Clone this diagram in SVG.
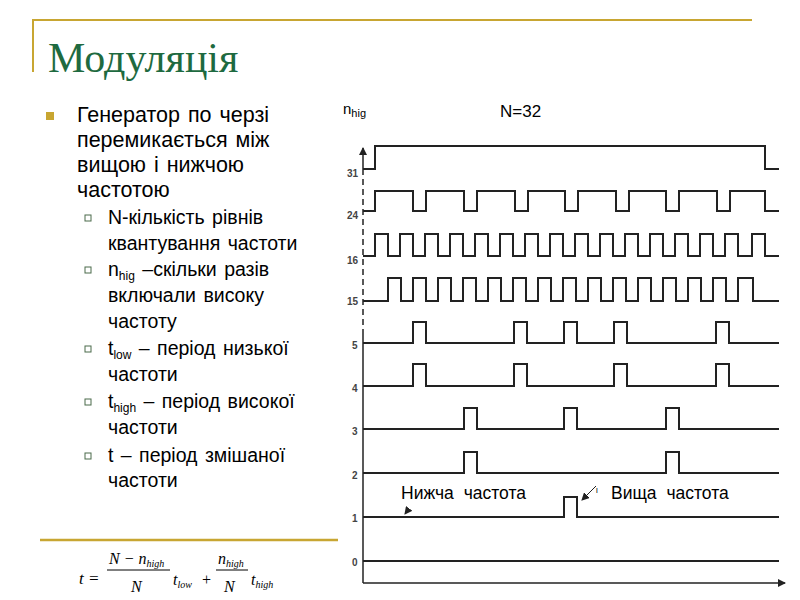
<svg xmlns="http://www.w3.org/2000/svg" width="800" height="600" viewBox="0 0 800 600">
<style>
.t{font-family:"Liberation Sans",Arial,sans-serif;fill:#000}
.b{font-size:21.5px;word-spacing:2px}.s{font-size:19.5px;word-spacing:2px}
.ttl{font-family:"Liberation Serif","Times New Roman",serif;font-size:42px;fill:#1e6a40}
.w{fill:none;stroke:#222;stroke-width:2}
.lab{font-family:"Liberation Sans",Arial,sans-serif;font-size:10px;font-weight:bold;fill:#444}
.f{font-family:"Liberation Serif","Times New Roman",serif;font-style:italic;fill:#000}
</style>
<defs>
<marker id="ah" markerWidth="8" markerHeight="8" refX="7" refY="4" orient="auto" markerUnits="userSpaceOnUse"><path d="M0,0 L8,4 L0,8 z" fill="#222"/></marker>
</defs>
<rect width="800" height="600" fill="#fff"/>
<g id="frame">
<path d="M33,72 V20 H752" fill="none" stroke="#c8a632" stroke-width="2"/>
<line x1="40" y1="540" x2="338" y2="540" stroke="#c8a632" stroke-width="2.5"/>
</g>
<text class="ttl" x="48" y="72">Модуляція</text>
<g id="bullets">
<rect x="46" y="112" width="8" height="8" fill="#c8a632"/>
<text class="t b" x="77" y="122">Генератор по черзі</text>
<text class="t b" x="77" y="147">перемикається між</text>
<text class="t b" x="77" y="172">вищою і нижчою</text>
<text class="t b" x="77" y="197">частотою</text>
<g fill="none" stroke="#4a6a4a" stroke-width="1">
<rect x="85" y="215" width="6" height="6"/><rect x="85" y="267" width="6" height="6"/>
<rect x="85" y="346" width="6" height="6"/><rect x="85" y="399" width="6" height="6"/>
<rect x="85" y="453" width="6" height="6"/></g>
<text class="t s" x="108" y="224">N-кількість рівнів</text>
<text class="t s" x="108" y="250">квантування частоти</text>
<text class="t s" x="108" y="276">n<tspan font-size="12" dy="4">hig</tspan><tspan dy="-4"> –скільки разів</tspan></text>
<text class="t s" x="108" y="302">включали високу</text>
<text class="t s" x="108" y="328">частоту</text>
<text class="t s" x="108" y="355">t<tspan font-size="12" dy="4">low</tspan><tspan dy="-4"> – період низької</tspan></text>
<text class="t s" x="108" y="381">частоти</text>
<text class="t s" x="108" y="408">t<tspan font-size="12" dy="4">high</tspan><tspan dy="-4"> – період високої</tspan></text>
<text class="t s" x="108" y="434">частоти</text>
<text class="t s" x="108" y="462">t – період змішаної</text>
<text class="t s" x="108" y="487">частоти</text>
</g>
<g id="formula">
<text class="f" x="79" y="584" font-size="17">t =</text>
<text class="f" x="109" y="564" font-size="16">N − n<tspan font-size="10" dy="3">high</tspan></text>
<line x1="107" y1="570" x2="170" y2="570" stroke="#000" stroke-width="1"/>
<text class="f" x="131" y="592" font-size="16">N</text>
<text class="f" x="173" y="585" font-size="16">t<tspan font-size="10" dy="3">low</tspan></text>
<text class="f" x="201" y="585" font-size="16">+</text>
<text class="f" x="218" y="564" font-size="16">n<tspan font-size="10" dy="3">high</tspan></text>
<line x1="216" y1="570" x2="248" y2="570" stroke="#000" stroke-width="1"/>
<text class="f" x="224" y="592" font-size="16">N</text>
<text class="f" x="251" y="585" font-size="16">t<tspan font-size="10" dy="3">high</tspan></text>
</g>
<g id="axes" stroke="#222" stroke-width="1.5" fill="none">
<line x1="363" y1="583" x2="363" y2="335"/>
<line x1="363" y1="335" x2="363" y2="170" stroke-dasharray="6,4"/>
<line x1="363" y1="170" x2="363" y2="148" marker-end="url(#ah)"/>
<line x1="363" y1="583" x2="785" y2="583" marker-end="url(#ah)"/>
</g>
<g id="labels">
<text class="t" x="343" y="114" font-size="15">n<tspan font-size="11" dy="3">hig</tspan></text>
<text class="t" x="500" y="117" font-size="17">N=32</text>
<text class="lab" x="347" y="177">31</text><text class="lab" x="347" y="219">24</text>
<text class="lab" x="347" y="264">16</text><text class="lab" x="347" y="305">15</text>
<text class="lab" x="352" y="349">5</text><text class="lab" x="352" y="392">4</text>
<text class="lab" x="352" y="435">3</text><text class="lab" x="352" y="479">2</text>
<text class="lab" x="352" y="522">1</text><text class="lab" x="352" y="566">0</text>
<text class="t" x="401" y="499" font-size="17.5" word-spacing="5">Нижча частота</text>
<text class="t" x="611" y="499" font-size="17.5" word-spacing="5">Вища частота</text>
<text class="t" x="596" y="493" font-size="8" fill="#555">l</text>
</g>
<g id="waves" class="w">
<path d="M363,169 H375 V146 H765 V169 H779"/>
<path d="M363,211 H375 V191 H413 V211 H426 V191 H464 V211 H477 V191 H515 V211 H528 V191 H565 V211 H578 V191 H616 V211 H629 V191 H666 V211 H679 V191 H717 V211 H730 V191 H765 V211 H779"/>
<path d="M363,256 H375 V234 H388 V256 H400 V234 H413 V256 H425 V234 H438 V256 H450 V234 H463 V256 H475 V234 H488 V256 H500 V234 H513 V256 H525 V234 H538 V256 H550 V234 H563 V256 H575 V234 H588 V256 H600 V234 H613 V256 H625 V234 H638 V256 H650 V234 H663 V256 H675 V234 H688 V256 H700 V234 H713 V256 H725 V234 H738 V256 H752 V234 H765 V256 H779"/>
<path d="M363,301 H388 V278 H401 V301 H413 V278 H426 V301 H438 V278 H451 V301 H463 V278 H476 V301 H488 V278 H501 V301 H513 V278 H526 V301 H538 V278 H551 V301 H563 V278 H576 V301 H588 V278 H601 V301 H613 V278 H626 V301 H638 V278 H651 V301 H663 V278 H676 V301 H688 V278 H701 V301 H713 V278 H726 V301 H738 V278 H753 V301 H779"/>
<path d="M363,343 H413 V322 H426 V343 H514 V322 H527 V343 H564 V322 H577 V343 H614 V322 H627 V343 H716 V322 H729 V343 H779"/>
<path d="M363,386 H413 V364 H426 V386 H514 V364 H527 V386 H614 V364 H627 V386 H716 V364 H729 V386 H779"/>
<path d="M363,429 H464 V408 H477 V429 H564 V408 H577 V429 H666 V408 H679 V429 H779"/>
<path d="M363,473 H464 V452 H477 V473 H666 V452 H679 V473 H779"/>
<path d="M363,517 H564 V497 H577 V517 H779"/>
<path d="M363,561 H779"/>
</g>
<g id="connectors" stroke="#222" stroke-width="1" fill="none">
<line x1="596" y1="486" x2="582" y2="500" marker-end="url(#ah)"/>
<line x1="408" y1="510" x2="405" y2="514" marker-end="url(#ah)"/>
</g>
</svg>
